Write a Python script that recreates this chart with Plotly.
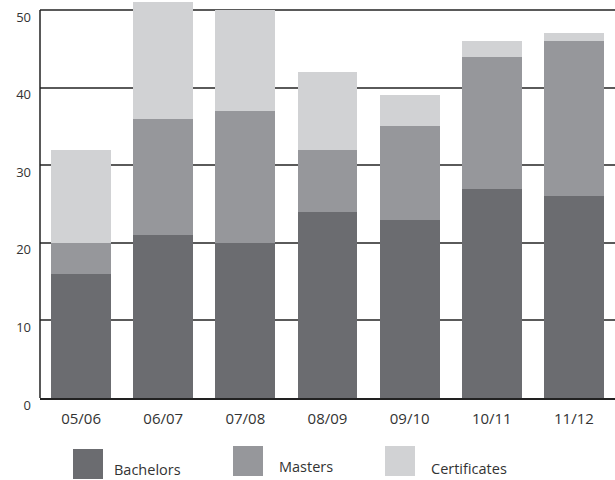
import plotly.graph_objects as go

years = ["05/06", "06/07", "07/08", "08/09", "09/10", "10/11", "11/12"]
bachelors = [16, 21, 20, 24, 23, 27, 26]
masters = [4, 15, 17, 8, 12, 17, 20]
certificates = [12, 15, 13, 10, 4, 2, 1]

series_names = ["Bachelors", "Masters", "Certificates"]
colors = ["#6b6c70", "#96979b", "#d1d2d4"]

fig = go.Figure()
for name, vals, c in zip(series_names, [bachelors, masters, certificates], colors):
    fig.add_trace(go.Bar(x=years, y=vals, name=name, marker=dict(color=c, line=dict(width=0)),
                         width=0.73, showlegend=False))

W0, W = 40, 575
H = 398
def px(x):
    return (x - W0) / W
def py(y):
    return (H - y) / H

legend_items = [
    (73, 449, 112, 470),
    (233, 446, 277, 466),
    (385, 446, 429, 468),
]
shapes = []
annotations = []
for (sx, sy, tx, ty), name, c in zip(legend_items, series_names, colors):
    shapes.append(dict(type="rect", xref="paper", yref="paper",
                       x0=px(sx), x1=px(sx + 30), y0=py(sy + 30), y1=py(sy),
                       fillcolor=c, line=dict(width=0)))
    annotations.append(dict(text=name, xref="paper", yref="paper", x=px(tx), y=py(ty),
                            xanchor="left", yanchor="middle", showarrow=False,
                            font=dict(size=14.5, color="#333333")))

# left axis line from 0 to 50 only
shapes.append(dict(type="line", xref="paper", yref="y", x0=0, x1=0, y0=0, y1=50,
                   line=dict(color="#222222", width=1.5)))

fig.update_layout(
    barmode="stack",
    width=615, height=480,
    margin=dict(l=40, r=0, t=0, b=82),
    paper_bgcolor="white", plot_bgcolor="white",
    font=dict(family="Open Sans", size=11, color="#333333"),
    shapes=shapes, annotations=annotations,
    xaxis=dict(showline=True, linecolor="#222222", linewidth=1.5, ticks="",
               tickfont=dict(size=15, color="#333333"), showgrid=False,
               ticklabelstandoff=6),
    yaxis=dict(range=[0, 51.3], tickvals=[0, 10, 20, 30, 40, 50], showgrid=True,
               gridcolor="#5a5a5a", gridwidth=1.5, showline=False,
               zeroline=False, ticks="", tickfont=dict(size=13, color="#333333"),
               ticklabelshift=7, ticklabelstandoff=8),
    bargap=0.27,
)
fig.write_html("out.html")
